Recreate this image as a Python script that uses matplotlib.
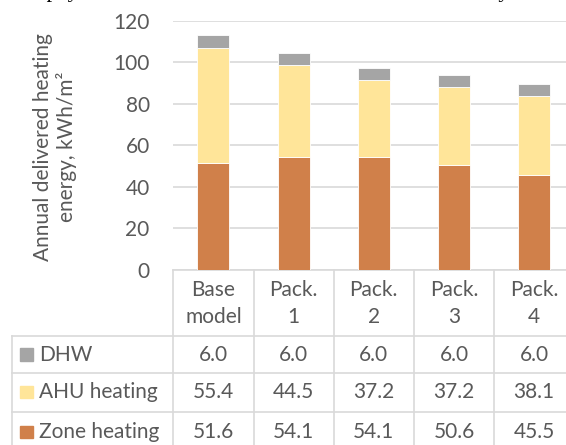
import matplotlib.pyplot as plt
from matplotlib.lines import Line2D
from matplotlib.patches import Rectangle

# data
categories = ['Base\nmodel', 'Pack.\n1', 'Pack.\n2', 'Pack.\n3', 'Pack.\n4']
zone = [51.6, 54.1, 54.1, 50.6, 45.5]
ahu = [55.4, 44.5, 37.2, 37.2, 38.1]
dhw = [6.0, 6.0, 6.0, 6.0, 6.0]
series_names = ['DHW', 'AHU heating', 'Zone heating']
yticks = [0, 20, 40, 60, 80, 100, 120]

c_zone = '#D0804A'
c_ahu = '#FFE599'
c_dhw = '#A5A5A5'
txt = '#595959'
grid = '#D9D9D9'

W, H = 566, 445
fig = plt.figure(figsize=(W / 100, H / 100), dpi=100)
plt.rcParams['font.family'] = ['Lato', 'DejaVu Sans']
fs = 15


def fx(px):
    return px / W


def fy(py):
    return 1 - py / H


# plot area in pixels
x0, x1 = 173.3, 574.3
ytop, ybot = 20.7, 269.5
ax = fig.add_axes([fx(x0), fy(ybot), fx(x1 - x0), (ybot - ytop) / H])

x = range(len(zone))
bottom2 = [a + b for a, b in zip(zone, ahu)]
ax.bar(x, zone, width=0.4, color=c_zone, edgecolor='white', linewidth=0.6, zorder=3)
ax.bar(x, ahu, width=0.4, bottom=zone, color=c_ahu, edgecolor='white', linewidth=0.6, zorder=3)
ax.bar(x, dhw, width=0.4, bottom=bottom2, color=c_dhw, edgecolor='white', linewidth=0.6, zorder=3)

ax.set_xlim(-0.5, len(zone) - 0.5)
ax.set_ylim(0, 120)
ax.set_yticks(yticks)
ax.set_yticklabels([str(v) for v in yticks], fontsize=fs, color=txt)
ax.tick_params(axis='y', length=0, pad=17)
ax.set_xticks([])
ax.grid(axis='y', color=grid, linewidth=1.2, zorder=0)
for s in ['top', 'right', 'left']:
    ax.spines[s].set_visible(False)
ax.spines['bottom'].set_color(grid)
ax.spines['bottom'].set_linewidth(1.2)

fig.text(fx(55), fy(147), 'Annual delivered heating\nenergy, kWh/m\u00b2', rotation=90,
         ha='center', va='center', fontsize=fs, color=txt, linespacing=1.2,
         multialignment='center')

# data table below the chart
colw = (x1 - x0) / len(zone)
rows_y = [335.7, 373.3, 412.3]
lw = 1.2
for k in range(len(zone) + 1):
    xx = x0 + k * colw
    fig.add_artist(Line2D([fx(xx), fx(xx)], [fy(ybot), fy(460)], color=grid, lw=lw))
for yy in rows_y:
    fig.add_artist(Line2D([fx(11.7), fx(x1)], [fy(yy), fy(yy)], color=grid, lw=lw))
fig.add_artist(Line2D([fx(11.7), fx(11.7)], [fy(rows_y[0]), fy(460)], color=grid, lw=lw))

for i, lab in enumerate(categories):
    cx = x0 + (i + 0.5) * colw
    top, bot = lab.split('\n')
    fig.text(fx(cx), fy(296), top, ha='center', va='baseline', fontsize=fs, color=txt)
    fig.text(fx(cx), fy(323.3), bot, ha='center', va='baseline', fontsize=fs, color=txt)

table_vals = [dhw, ahu, zone]
colors = [c_dhw, c_ahu, c_zone]
baselines = [360.7, 398.3, 438.3]
for name, vals, col, bl in zip(series_names, table_vals, colors, baselines):
    fig.add_artist(Rectangle((fx(20), fy(bl)), fx(12.7), 12.7 / H, color=col))
    fig.text(fx(39), fy(bl), name, ha='left', va='baseline', fontsize=fs, color=txt)
    for i, v in enumerate(vals):
        cx = x0 + (i + 0.5) * colw
        fig.text(fx(cx), fy(bl), f'{v:.1f}', ha='center', va='baseline', fontsize=fs, color=txt)

# clipped line of the surrounding document text (only its lower edge is visible)
fig.text(fx(-30), fy(-3), 'year the payback time will then be about thirteen to twelve years.',
         ha='left', va='baseline', fontsize=16, color='black', family='Liberation Serif')

fig.savefig('out.png', dpi=100)
